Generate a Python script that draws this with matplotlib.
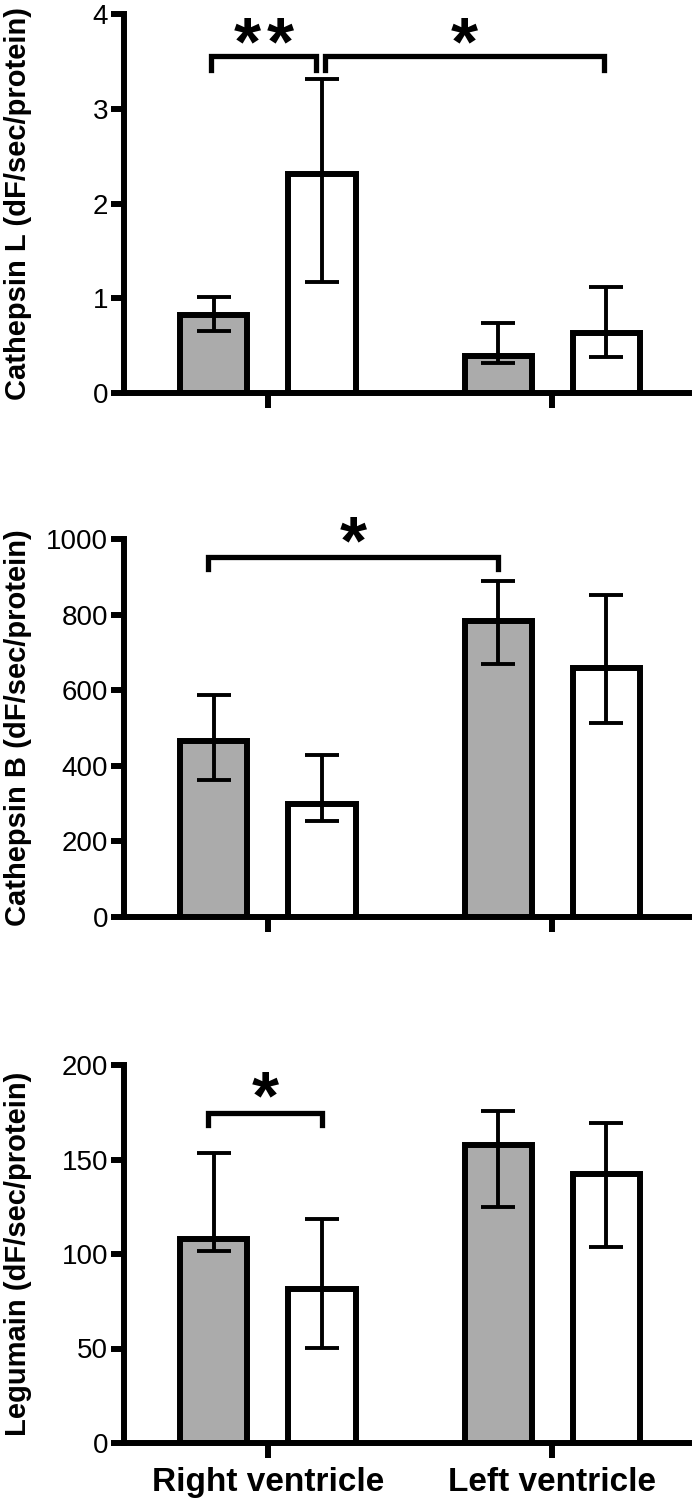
import matplotlib

matplotlib.use("Agg")
import matplotlib.pyplot as plt
import numpy as np

plt.rcParams["font.family"] = ["Liberation Sans", "DejaVu Sans"]

groups = ["Right ventricle", "Left ventricle"]

# Cathepsin L
catl_gray = [0.82, 0.39]
catl_gray_lo = [0.65, 0.32]
catl_gray_hi = [1.01, 0.74]
catl_white = [2.31, 0.63]
catl_white_lo = [1.17, 0.38]
catl_white_hi = [3.31, 1.12]

# Cathepsin B
catb_gray = [465, 783]
catb_gray_lo = [363, 668]
catb_gray_hi = [588, 889]
catb_white = [298, 660]
catb_white_lo = [253, 514]
catb_white_hi = [428, 852]

# Legumain
leg_gray = [108, 157.5]
leg_gray_lo = [101.5, 125]
leg_gray_hi = [153.5, 175.5]
leg_white = [81.5, 142.5]
leg_white_lo = [50.5, 103.5]
leg_white_hi = [118.5, 169.5]

panels = [
    dict(label="Cathepsin L (dF/sec/protein)", ymax=4, ticks=[0, 1, 2, 3, 4],
         gray=(catl_gray, catl_gray_lo, catl_gray_hi),
         white=(catl_white, catl_white_lo, catl_white_hi),
         brackets=[(-0.20, 0.17, 3.56, 3.41, 2), (0.20, 1.18, 3.56, 3.41, 1)],
         star_y=3.815),
    dict(label="Cathepsin B (dF/sec/protein)", ymax=1000, ticks=[0, 200, 400, 600, 800, 1000],
         gray=(catb_gray, catb_gray_lo, catb_gray_hi),
         white=(catb_white, catb_white_lo, catb_white_hi),
         brackets=[(-0.21, 0.81, 952, 920, 1)],
         star_y=1022),
    dict(label="Legumain (dF/sec/protein)", ymax=200, ticks=[0, 50, 100, 150, 200],
         gray=(leg_gray, leg_gray_lo, leg_gray_hi),
         white=(leg_white, leg_white_lo, leg_white_hi),
         brackets=[(-0.21, 0.19, 174.5, 168, 1)],
         star_y=189),
]

W, H = 694, 1498
fig = plt.figure(figsize=(W / 100, H / 100), dpi=100)
left, right = 124, 689
tops = [14, 539, 1065]
bottoms = [393, 917, 1443]

x = np.arange(len(groups))
off = 0.19
bw = 0.237
lw = 4.3
star_fs = 50
star_gap = 0.116

for i, p in enumerate(panels):
    ax = fig.add_axes([left / W, 1 - bottoms[i] / H, (right - left) / W, (bottoms[i] - tops[i]) / H])
    for vals, color, dx in ((p["gray"], "#ababab", -off), (p["white"], "white", off)):
        v, lo, hi = (np.array(a, dtype=float) for a in vals)
        ax.bar(x + dx, v, width=bw, color=color, edgecolor="black", linewidth=lw, zorder=2)
        ax.errorbar(x + dx, v, yerr=[v - lo, hi - v], fmt="none", ecolor="black",
                    elinewidth=2.8, capsize=12.5, capthick=2.8, zorder=3)
    for x0, x1, ytop, yend, nstars in p["brackets"]:
        ax.plot([x0, x0, x1, x1], [yend, ytop, ytop, yend], color="black", lw=3.8,
                solid_joinstyle="miter", clip_on=False, zorder=4)
        xm = (x0 + x1) / 2
        for k in range(nstars):
            xs = xm + (k - (nstars - 1) / 2) * star_gap
            # asterisk glyph centre sits roughly half an em above the baseline
            ax.annotate("*", (xs, p["star_y"]), xytext=(0, -0.47 * star_fs),
                        textcoords="offset points", ha="center", va="baseline",
                        fontsize=star_fs, fontweight="bold", annotation_clip=False)
    ax.set_xlim(-0.505, 1.48)
    ax.set_ylim(0, p["ymax"])
    ax.set_yticks(p["ticks"])
    ax.set_xticks(x)
    if i == 2:
        ax.set_xticklabels(groups, fontsize=24, fontweight="bold")
    else:
        ax.set_xticklabels([])
    ax.spines[["top", "right"]].set_visible(False)
    ax.spines[["left", "bottom"]].set_linewidth(lw)
    ax.tick_params(axis="y", length=9.5, width=lw, labelsize=20, pad=2)
    ax.tick_params(axis="x", length=11, width=lw, pad=6)
    ax.set_facecolor("none")
    fig.text(18 / W, 1 - (tops[i] + bottoms[i]) / 2 / H, p["label"], rotation=90,
             ha="center", va="center", fontsize=21, fontweight="bold")

fig.savefig("out.png", dpi=100)
